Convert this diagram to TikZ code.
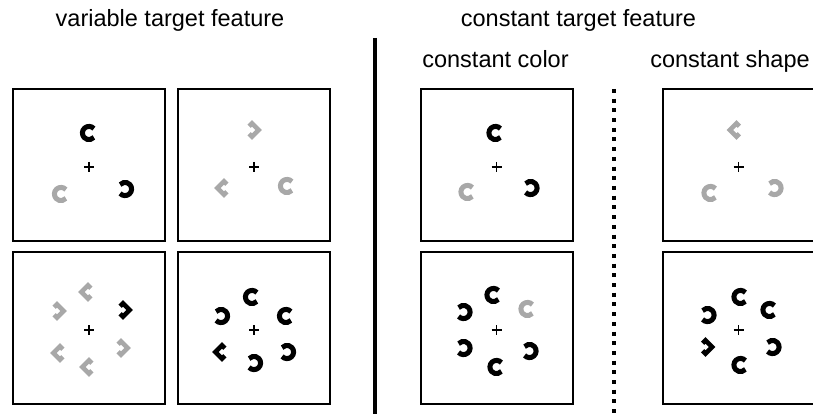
\documentclass[tikz,border=0pt]{standalone}
\usepackage{fontspec}
\setmainfont{Liberation Sans}
\usepackage{tikz}

\definecolor{distgrey}{gray}{0.66}

\begin{document}
\begin{tikzpicture}
[x=1pt,y=-1pt,
 font=\fontsize{23.5}{27}\selectfont,
 panel/.style={draw=black,line width=2pt},
 sep/.style={draw=black,line width=4pt},
 dotsep/.style={draw=black,line width=4pt,dash pattern=on 4pt off 5.7pt},
 fix/.style={draw=black,line width=1.3pt},
 cring/.pic={\draw[line width=5pt] (42:6.6pt) arc[start angle=42,end angle=318,radius=6.6pt];},
 dring/.pic={\draw[line width=4.6pt,line join=miter] (2.9pt,3.8pt) -- (0pt,6.7pt) -- (-6.7pt,0pt) -- (0pt,-6.7pt) -- (2.9pt,-3.8pt);}]
\useasboundingbox (0,0) rectangle (813,414);

\node[anchor=base] (vt) at (170,27) {variable target feature};
\node[anchor=base] (ct) at (578.5,27) {constant target feature};
\node[anchor=base] (cc) at (495.5,68) {constant color};
\node[anchor=base] (cs) at (730,68) {constant shape};

\draw[sep] (375,38) -- (375,414);
\draw[dotsep] (614,89) -- (614,414);

\coordinate (F1) at (89,167);
\coordinate (F2) at (254,167);
\coordinate (F3) at (89,330);
\coordinate (F4) at (254,330);
\coordinate (F5) at (496.5,167);
\coordinate (F6) at (496.5,330);
\coordinate (F7) at (738.5,167);
\coordinate (F8) at (738.5,330);

\foreach \f in {F1,F2,F3,F4,F5,F6,F7,F8}
  {\draw[panel] (\f) +(-76,-78) rectangle +(76,74);
   \draw[fix] (\f) +(-5,0) -- +(5,0) (\f) +(0,-5) -- +(0,5);}

\foreach \dx/\dy/\s/\c/\r in {0/-34/cring/black/0,-28/27/cring/distgrey/0,36/22/cring/black/180}
  \path (F1) ++(\dx,\dy) pic[\c,rotate=\r] {\s};
\foreach \dx/\dy/\s/\c/\r in {-2/-37/dring/distgrey/180,-30/21/dring/distgrey/0,33/19/cring/distgrey/0}
  \path (F2) ++(\dx,\dy) pic[\c,rotate=\r] {\s};
\foreach \dx/\dy/\s/\c/\r in {-32/-19/dring/distgrey/180,-1/-38/dring/distgrey/0,34/-20/dring/black/180,
    -29/23/dring/distgrey/0,32/18/dring/distgrey/180,0/37/dring/distgrey/0}
  \path (F3) ++(\dx,\dy) pic[\c,rotate=\r] {\s};
\foreach \dx/\dy/\s/\c/\r in {-2/-33/cring/black/0,-33/-14/cring/black/180,32/-14/cring/black/0,
    -32/22/dring/black/0,33/22/cring/black/180,0/33/cring/black/180}
  \path (F4) ++(\dx,\dy) pic[\c,rotate=\r] {\s};
\foreach \dx/\dy/\s/\c/\r in {-1/-34/cring/black/0,-29/25/cring/distgrey/0,34/21/cring/black/180}
  \path (F5) ++(\dx,\dy) pic[\c,rotate=\r] {\s};
\foreach \dx/\dy/\s/\c/\r in {-3/-35/cring/black/0,-33/-18/cring/black/180,31/-21/cring/distgrey/0,
    -33/18/cring/black/180,33/21/cring/black/180,0/37/cring/black/0}
  \path (F6) ++(\dx,\dy) pic[\c,rotate=\r] {\s};
\foreach \dx/\dy/\s/\c/\r in {-2/-37/dring/distgrey/0,-28/26/cring/distgrey/0,36/21/cring/distgrey/180}
  \path (F7) ++(\dx,\dy) pic[\c,rotate=\r] {\s};
\foreach \dx/\dy/\s/\c/\r in {2/-33/cring/black/0,-31/-15/cring/black/180,31/-20/cring/black/0,
    -33/17/dring/black/180,34/17/cring/black/180,2/35/cring/black/0}
  \path (F8) ++(\dx,\dy) pic[\c,rotate=\r] {\s};

\end{tikzpicture}
\end{document}
